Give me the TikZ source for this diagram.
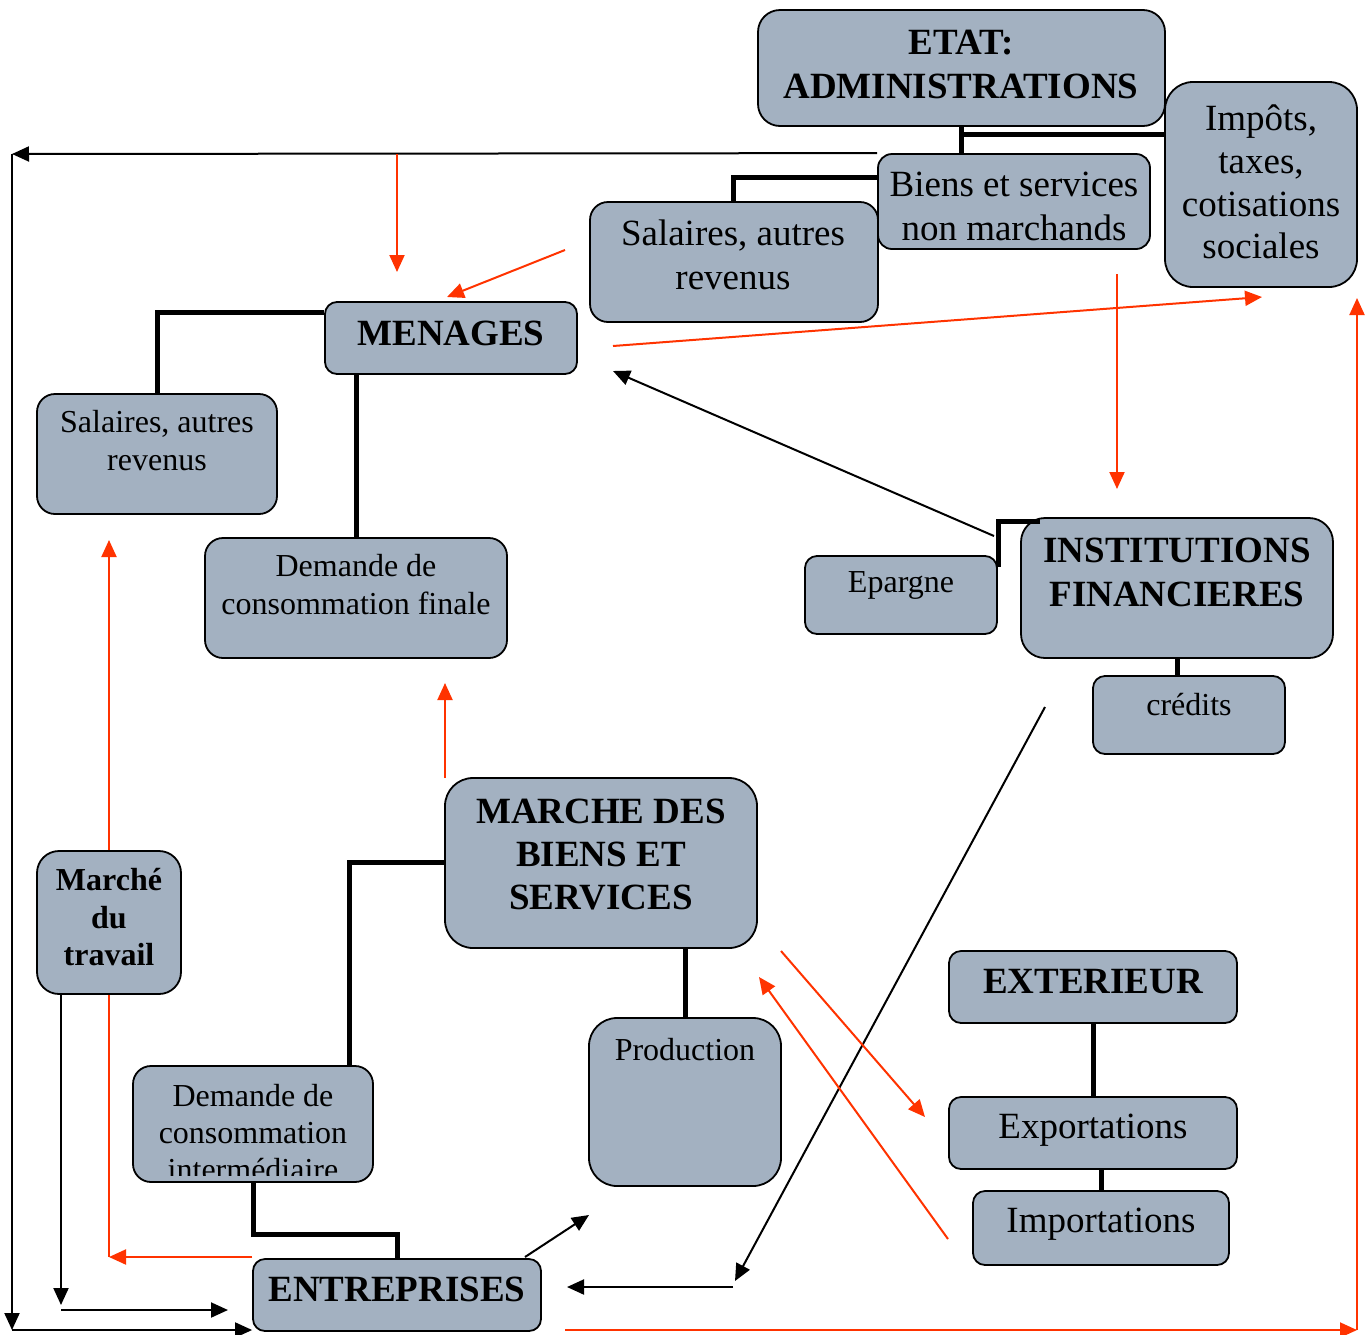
\documentclass[tikz,border=0pt]{standalone}
\usepackage{fontspec}
\setmainfont{Liberation Serif}
\usetikzlibrary{arrows.meta}
\definecolor{boxfill}{RGB}{163,177,193}
\definecolor{flowred}{RGB}{255,51,0}
\begin{document}
\begin{tikzpicture}[x=1pt,y=-1pt,
  box/.style={draw=black,line width=1.8pt,fill=boxfill,inner sep=0pt},
  txt/.style={align=center,inner sep=0pt,font=\fontsize{37}{44}\selectfont},
  txtb/.style={align=center,inner sep=0pt,font=\fontsize{37}{44}\selectfont\bfseries},
  txts/.style={align=center,inner sep=0pt,font=\fontsize{32}{38}\selectfont},
  txtsb/.style={align=center,inner sep=0pt,font=\fontsize{32}{37.5}\selectfont\bfseries},
  link/.style={line width=5pt},
  flow/.style={line width=2pt,-{Triangle[length=17pt,width=15pt]}},
  rflow/.style={flow,draw=flowred,fill=flowred},
  rline/.style={line width=2pt,draw=flowred}]
\useasboundingbox (0,0) rectangle (1368,1334);

% boxes
\node[box,rounded corners=22pt,minimum width=407pt,minimum height=116pt] (etat) at (961.5,68) {};
\node[box,rounded corners=28pt,minimum width=192pt,minimum height=205pt] (imp) at (1261,184.5) {};
\node[box,rounded corners=14pt,minimum width=272pt,minimum height=95pt] (bs) at (1014,201.5) {};
\node[box,rounded corners=18pt,minimum width=288pt,minimum height=120pt] (sal2) at (734,262) {};
\node[box,rounded corners=12pt,minimum width=252pt,minimum height=72pt] (men) at (451,338) {};
\node[box,rounded corners=18pt,minimum width=240pt,minimum height=120pt] (sal1) at (157,454) {};
\node[box,rounded corners=18pt,minimum width=302pt,minimum height=120pt] (df) at (356,598) {};
\node[box,rounded corners=12pt,minimum width=192pt,minimum height=78pt] (ep) at (901,595) {};
\node[box,rounded corners=24pt,minimum width=312pt,minimum height=140pt] (inst) at (1177,588) {};
\node[box,rounded corners=12pt,minimum width=192pt,minimum height=78pt] (cred) at (1189,715) {};
\node[box,rounded corners=28pt,minimum width=312pt,minimum height=170pt] (mbs) at (601,863) {};
\node[box,rounded corners=22pt,minimum width=144pt,minimum height=143pt] (mt) at (109,922.5) {};
\node[box,rounded corners=12pt,minimum width=288pt,minimum height=72pt] (ext) at (1093,987) {};
\node[box,rounded corners=12pt,minimum width=288pt,minimum height=72pt] (exp) at (1093,1133) {};
\node[box,rounded corners=12pt,minimum width=256pt,minimum height=74pt] (imp2) at (1101,1228) {};
\node[box,rounded corners=28pt,minimum width=192pt,minimum height=168pt] (prod) at (685,1102) {};
\node[box,rounded corners=18pt,minimum width=240pt,minimum height=116pt] (di) at (253,1124) {};
\node[box,rounded corners=12pt,minimum width=288pt,minimum height=72pt] (ent) at (397,1295) {};

% texts
\node[txtb] (etat-t) at (961,64) {ETAT:\\ADMINISTRATIONS};
\node[txt,font=\fontsize{37}{42.7}\selectfont] (imp-t) at (1261,182) {Impôts,\\taxes,\\cotisations\\sociales};
\node[txt] (bs-t) at (1014,206) {Biens et services\\non marchands};
\node[txt] (sal2-t) at (733,255) {Salaires, autres\\revenus};
\node[txtb] (men-t) at (451,333) {MENAGES};
\node[txts] (sal1-t) at (157,441) {Salaires, autres\\revenus};
\node[txts] (df-t) at (356,585) {Demande de\\consommation finale};
\node[txts] (ep-t) at (901,585) {Epargne};
\node[txtb] (inst-t) at (1177,572.5) {INSTITUTIONS\\FINANCIERES};
\node[txts] (cred-t) at (1189,705) {crédits};
\node[txtb,font=\fontsize{37}{43}\selectfont\bfseries] (mbs-t) at (601,855) {MARCHE DES\\BIENS ET\\SERVICES};
\node[txtsb] (mt-t) at (109,917.5) {Marché\\du\\travail};
\node[txtb] (ext-t) at (1093,982) {EXTERIEUR};
\node[txt] (exp-t) at (1093,1130) {Exportations};
\node[txt] (imp2-t) at (1101,1224) {Importations};
\node[txts] (prod-t) at (685,1050) {Production};
\begin{scope}
\clip (133,1060) rectangle (373,1175);
\node[txts,font=\fontsize{32}{37}\selectfont] (di-t) at (253,1133) {Demande de\\consommation\\intermédiaire};
\end{scope}
\node[txtb] (ent-t) at (397,1289) {ENTREPRISES};

% thick links
\coordinate (j1) at (961.5,134);
\draw[link] (etat.south) -- (bs.north -| etat.south);
\draw[link] (j1) -- (j1 -| imp.west);
\coordinate (j2) at (733,177);
\draw[link] (j2 -| bs.west) -- (j2) -- (j2 |- sal2.north);
\coordinate (j3) at (157,312);
\draw[link] (j3 -| men.west) -- (j3) -- (j3 |- sal1.north);
\coordinate (j4) at (356,374);
\draw[link] (j4 |- men.south) -- (j4 |- df.north);
\coordinate (j5a) at (1040,521);
\coordinate (j5) at (998,521);
\coordinate (j5b) at (998,567);
\draw[link] (j5a) -- (j5) -- (j5b);
\draw[link] (inst.south) -- (inst.south |- cred.north);
\coordinate (j7) at (349,862);
\draw[link] (j7 -| mbs.west) -- (j7) -- (j7 |- di.north);
\draw[link] (mbs.south -| prod.north) -- (prod.north);
\coordinate (j8) at (253,1234);
\draw[link] (di.south) -- (j8) -- (j8 -| ent.north) -- (ent.north);
\draw[link] (ext.south) -- (exp.north);
\draw[link] (exp.south -| imp2.north) -- (imp2.north);

% black flows
\coordinate (tl) at (12,154);
\coordinate (bl) at (12,1330);
\draw[flow] (bs.north west) -- (tl);
\draw[flow] (tl) -- (bl);
\draw[flow] (bl) -- (bl -| ent.west);
\coordinate (mtb) at (61,1305);
\draw[flow] (mt.south -| mtb) -- (mtb);
\coordinate (mtc) at (61,1310);
\coordinate (mtd) at (228,1310);
\draw[flow] (mtc) -- (mtd);
\coordinate (epa) at (994,536);
\coordinate (mena) at (613,371);
\draw[flow] (epa) -- (mena);
\coordinate (insa) at (1045,707);
\coordinate (entb) at (735,1281);
\draw[flow] (insa) -- (entb);
\coordinate (entc) at (733,1287);
\coordinate (entd) at (567,1287);
\draw[flow] (entc) -- (entd);
\coordinate (ente) at (525,1257);
\coordinate (prodb) at (589,1215);
\draw[flow] (ente) -- (prodb);

% red flows
\coordinate (r1a) at (397,154);
\coordinate (r1b) at (397,272);
\draw[rflow] (r1a) -- (r1b);
\coordinate (r2a) at (565,250);
\coordinate (r2b) at (447,297);
\draw[rflow] (r2a) -- (r2b);
\coordinate (r3a) at (613,346);
\coordinate (r3b) at (1262,297);
\draw[rflow] (r3a) -- (r3b);
\coordinate (r4a) at (1117,274);
\coordinate (r4b) at (1117,489);
\draw[rflow] (r4a) -- (r4b);
\coordinate (r5a) at (565,1330);
\coordinate (r5b) at (1357,1330);
\coordinate (r5c) at (1357,298);
\draw[rflow] (r5a) -- (r5b);
\draw[rflow] (r5b) -- (r5c);
\coordinate (r6) at (109,540);
\draw[rflow] (mt.north) -- (r6);
\coordinate (r7a) at (445,778);
\coordinate (r7b) at (445,683);
\draw[rflow] (r7a) -- (r7b);
\coordinate (r8) at (109,1257);
\draw[rline] (mt.south) -- (r8);
\draw[rflow] (r8 -| ent.west) -- (r8);
\coordinate (r9a) at (781,951);
\coordinate (r9b) at (925,1117);
\draw[rflow] (r9a) -- (r9b);
\coordinate (r10a) at (948,1239);
\coordinate (r10b) at (759,977);
\draw[rflow] (r10a) -- (r10b);
\end{tikzpicture}
\end{document}
